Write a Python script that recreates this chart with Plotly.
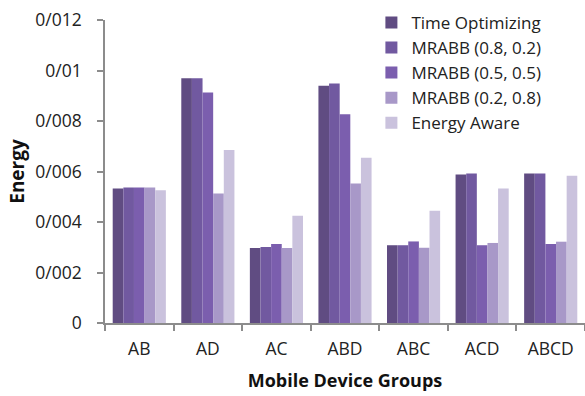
import plotly.graph_objects as go

# Mobile device groups on the x axis
groups = ["AB", "AD", "AC", "ABD", "ABC", "ACD", "ABCD"]

# Energy consumed per scheduling strategy
time_optimizing = [0.00533, 0.00969, 0.00297, 0.00940, 0.00308, 0.00588, 0.00592]
mrabb_08_02 = [0.00537, 0.00969, 0.00301, 0.00949, 0.00308, 0.00592, 0.00592]
mrabb_05_05 = [0.00537, 0.00913, 0.00313, 0.00827, 0.00323, 0.00308, 0.00313]
mrabb_02_08 = [0.00537, 0.00513, 0.00297, 0.00552, 0.00298, 0.00317, 0.00322]
energy_aware = [0.00526, 0.00685, 0.00425, 0.00654, 0.00445, 0.00533, 0.00583]

series_names = ["Time Optimizing", "MRABB (0.8, 0.2)", "MRABB (0.5, 0.5)",
                "MRABB (0.2, 0.8)", "Energy Aware"]
series_values = [time_optimizing, mrabb_08_02, mrabb_05_05, mrabb_02_08, energy_aware]
series_colors = ["#604c82", "#7159a0", "#7b5eae", "#a898c8", "#cac2dd"]

# Y tick labels use "/" as the decimal separator
y_tick_vals = [0, 0.002, 0.004, 0.006, 0.008, 0.010, 0.012]
y_tick_text = ["0", "0/002", "0/004", "0/006", "0/008", "0/01", "0/012"]

FONT = "Open Sans"
AXIS_GREY = "#8c8c8c"
TEXT = "#222222"

fig = go.Figure()
for name, vals, color in zip(series_names, series_values, series_colors):
    fig.add_trace(go.Bar(name=name, x=groups, y=vals,
                         marker=dict(color=color, line=dict(width=0))))

fig.update_layout(
    width=585, height=396,
    margin=dict(l=105, r=0, t=20, b=73),
    paper_bgcolor="white", plot_bgcolor="white",
    barmode="group", bargap=0.225, bargroupgap=0,
    font=dict(family=FONT, size=17, color=TEXT),
    legend=dict(x=0.555, y=1.05, xanchor="left", yanchor="top",
                bgcolor="rgba(0,0,0,0)", font=dict(size=17, color=TEXT),
                itemwidth=30, tracegroupgap=0),
    xaxis=dict(
        range=[-0.5, 6.5], showline=True, linecolor=AXIS_GREY, linewidth=1.5,
        ticks="outside", tickson="boundaries", ticklen=6, tickcolor=AXIS_GREY,
        tickwidth=1.5, showgrid=False, ticklabelstandoff=9,
        tickfont=dict(size=17.5, color=TEXT),
        title=dict(text="<b>Mobile Device Groups</b>", font=dict(size=18, color="#111111"),
                   standoff=16),
    ),
    yaxis=dict(
        range=[0, 0.012], showline=True, linecolor=AXIS_GREY, linewidth=1.5,
        ticks="outside", ticklen=6, tickcolor=AXIS_GREY, tickwidth=1.5,
        showgrid=False, zeroline=False, ticklabelstandoff=12,
        tickfont=dict(size=17.5, color=TEXT),
        tickvals=y_tick_vals, ticktext=y_tick_text,
        title=dict(text="<b>Energy</b>", font=dict(size=19, color="#111111"),
                   standoff=6),
    ),
)

fig.write_html("out.html")
